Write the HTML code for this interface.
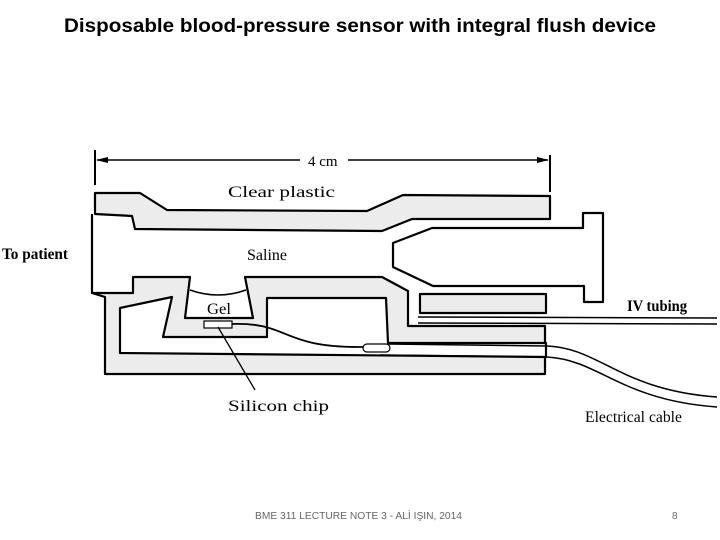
<!DOCTYPE html>
<html><head><meta charset="utf-8"><style>html,body{margin:0;padding:0;background:#fff}svg{display:block}</style></head>
<body>
<svg width="720" height="540" viewBox="0 0 720 540" xmlns="http://www.w3.org/2000/svg">
<rect width="720" height="540" fill="#fff"/>
<text x="64" y="32" font-family="Liberation Sans, sans-serif" font-size="19" font-weight="bold" textLength="592" lengthAdjust="spacingAndGlyphs">Disposable blood-pressure sensor with integral flush device</text>
<g stroke="#000" stroke-width="2" fill="none">
<line x1="95" y1="150" x2="95" y2="185"/>
<line x1="550" y1="155" x2="550" y2="192"/>
<line x1="97" y1="160" x2="300" y2="160" stroke-width="1.5"/>
<line x1="348" y1="160" x2="548" y2="160" stroke-width="1.5"/>
</g>
<polygon points="96,160 108,157 108,163" fill="#000"/>
<polygon points="549,160 537,157 537,163" fill="#000"/>
<g font-family="Liberation Serif, serif" font-size="16" fill="#000">
<text x="308" y="166" font-size="15">4 cm</text>
<text x="228" y="197" textLength="107" lengthAdjust="spacingAndGlyphs">Clear plastic</text>
<text x="247" y="260" textLength="40" lengthAdjust="spacingAndGlyphs">Saline</text>
<text x="2" y="259" font-weight="bold" textLength="66" lengthAdjust="spacingAndGlyphs">To patient</text>
<text x="472" y="262" textLength="72" lengthAdjust="spacingAndGlyphs">Flush valve</text>
<text x="627" y="311" font-weight="bold" textLength="60" lengthAdjust="spacingAndGlyphs">IV tubing</text>
<text x="585" y="422" textLength="97" lengthAdjust="spacingAndGlyphs">Electrical cable</text>
<text x="228" y="411" textLength="101" lengthAdjust="spacingAndGlyphs">Silicon chip</text>
<text x="207" y="314" textLength="24" lengthAdjust="spacingAndGlyphs">Gel</text>
</g>
<g stroke="#000" stroke-width="2.2" stroke-linejoin="round">
<polygon fill="#ececec" points="95,193 140,193 167,210 367,211 403,195 550,196 550,219 412,219 382,231 135,229 132,216 95,214"/>
<polygon fill="#ececec" points="92,293 133,293 133,277 190,277 185,318 253,318 245,277 382,277 408,291 408,326 545,326 545,342 545,374 105,374 105,297"/>
<polygon fill="#fff" points="120,308 172,297 163,337 267,337 267,298 386,298 388,343 546,343 546,357 120,353"/>
<polygon fill="#fff" points="432,228 583,228 583,213 603,213 603,302 584,302 584,286 433,286 393,267 393,243"/>
<rect x="420" y="294" width="126" height="19" fill="#ececec"/>
</g>
<g stroke="#000" fill="none">
<line x1="92" y1="214" x2="92" y2="293" stroke-width="2.2"/>
<path d="M190,290 Q218,300 246,290" stroke-width="1.5"/>
<rect x="204" y="321" width="28" height="7" fill="#fff" stroke-width="1.2"/>
<path d="M232,324 C290,322 280,348 363,347" stroke-width="1.8"/>
<rect x="363" y="344" width="27" height="8" rx="4" fill="#fff" stroke-width="1.2"/>
<line x1="218" y1="327" x2="255" y2="390" stroke-width="1.3"/>
<line x1="418" y1="317" x2="717" y2="318" stroke-width="1.5"/>
<line x1="418" y1="323" x2="717" y2="324" stroke-width="1.5"/>
<path d="M388,344 L547,346 C600,348 620,390 717,397" stroke-width="1.5"/>
<path d="M380,355 L547,357 C600,360 620,400 717,407" stroke-width="1.5"/>
</g>
<text x="255" y="519" font-family="Liberation Sans, sans-serif" font-size="10" fill="#666" textLength="207" lengthAdjust="spacingAndGlyphs">BME 311 LECTURE NOTE 3 - ALİ IŞIN, 2014</text>
<text x="672" y="519" font-family="Liberation Sans, sans-serif" font-size="10" fill="#666">8</text>
</svg>
</body></html>
